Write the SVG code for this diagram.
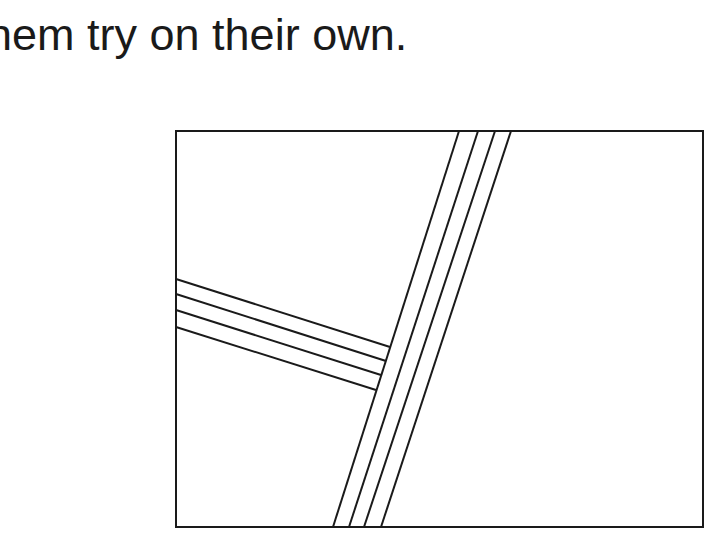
<svg xmlns="http://www.w3.org/2000/svg" width="720" height="546" viewBox="0 0 720 546">
<style>
.t{font-family:"Liberation Sans",Arial,sans-serif;font-size:45px;fill:#1a1a1a}
.l{stroke:#1a1a1a;stroke-width:2;fill:none}
</style>
<rect width="720" height="546" fill="#fff"/>
<text class="t" x="-13" y="50">hem try on their own.</text>
<g id="frame"><rect class="l" x="176" y="131" width="527" height="396"/></g>
<g id="band-vertical">
<line class="l" x1="459" y1="131" x2="333" y2="527"/>
<line class="l" x1="478" y1="131" x2="349" y2="527"/>
<line class="l" x1="495" y1="131" x2="364" y2="527"/>
<line class="l" x1="511" y1="131" x2="381" y2="527"/>
</g>
<g id="band-left">
<line class="l" x1="176" y1="279" x2="390" y2="347"/>
<line class="l" x1="176" y1="294" x2="386" y2="361"/>
<line class="l" x1="176" y1="310" x2="381" y2="375"/>
<line class="l" x1="176" y1="327" x2="376" y2="390"/>
</g>
</svg>
